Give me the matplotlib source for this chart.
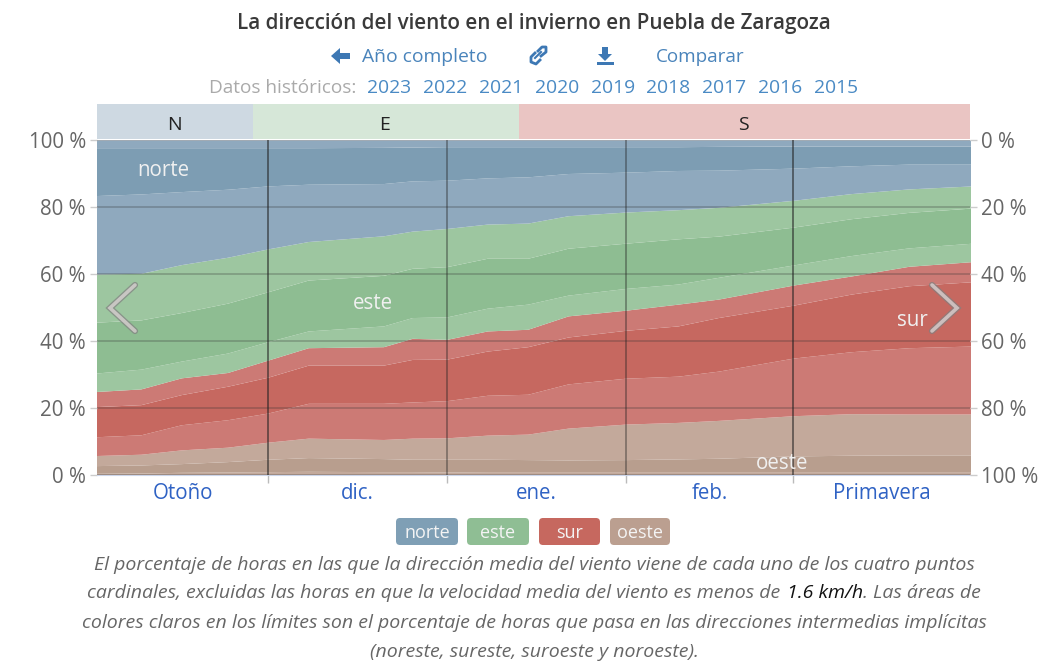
import numpy as np
import matplotlib
matplotlib.use('Agg')
import matplotlib.pyplot as plt
from matplotlib.patches import FancyBboxPatch, Rectangle, Polygon

plt.rcParams['font.family'] = ['Open Sans', 'DejaVu Sans']

# days counted from 1 Dec
days = [-30, -22, -15, -7, 0, 7, 20, 25, 31, 38, 45, 52, 62, 71, 78, 91, 101, 111, 122]

# cumulative % from the bottom of the stack
oeste_low = [0.5, 0.6, 0.8, 0.9, 1, 1.1, 1, 1, 0.9, 1, 1, 1, 1, 1, 1, 1, 1, 1, 1]
oeste_mid = [2.8, 3, 3.4, 4, 4.7, 5.2, 4.9, 4.7, 4.7, 4.7, 4.6, 4.5, 4.6, 4.8, 5, 5.7, 5.9, 6, 6]
oeste_top = [5.8, 6.2, 7.5, 8.3, 9.8, 11, 10.6, 11, 11.1, 11.9, 12.2, 14, 15.2, 15.7, 16.3, 17.7, 18.3, 18.2, 18.2]
sur_low = [11.4, 12, 15, 16.5, 18.5, 21.4, 21.4, 21.8, 22.2, 23.8, 24.1, 27.2, 28.9, 29.5, 31, 34.9, 36.8, 38, 38.5]
sur_mid = [20.4, 21, 24, 26.5, 29.2, 32.8, 32.8, 34.5, 34.6, 37, 38.3, 41.2, 43.2, 44.5, 47, 50.7, 54, 56.5, 57.7]
sur_top = [24.9, 25.7, 29, 30.6, 34.3, 38, 38.3, 40.8, 40.5, 43, 43.5, 47.5, 49.2, 51, 52.5, 56.7, 59.4, 62.3, 63.7]
este_low = [30.4, 31.6, 34, 36.4, 39.8, 43, 44.5, 47, 47.2, 49.8, 51, 53.7, 55.7, 57, 59, 62.7, 65.5, 67.8, 69.2]
este_mid = [45.6, 46.3, 48.5, 51.3, 54.7, 58.2, 59.6, 61.7, 62.2, 64.7, 64.7, 67.7, 69.2, 70.5, 71.3, 74, 76.5, 78.4, 79.7]
este_top = [60, 60.2, 62.8, 65, 67.5, 69.7, 71.4, 72.8, 73.6, 74.9, 75.2, 77.4, 78.5, 79.2, 79.9, 82, 84, 85.4, 86.3]
norte_low = [83.4, 83.9, 84.6, 85.3, 86.3, 86.8, 87, 87.8, 88, 88.7, 89, 90, 90.4, 90.9, 91, 91.6, 92.3, 92.8, 92.8]
norte_mid = [97.7, 97.7, 97.7, 97.7, 97.7, 97.7, 97.8, 97.9, 98, 98, 98, 98, 98, 98, 98.1, 98.2, 98.2, 98.2, 98.2]
norte_top = [100] * len(days)
bottom = [0] * len(days)

month_edges = [0, 31, 62, 91]
month_alpha = [0.65, 0.45, 0.45, 0.65]
month_mids = [-14.7, 15.5, 46.5, 76.5, 106.3]
month_names = ['Otoño', 'dic.', 'ene.', 'feb.', 'Primavera']
pct_ticks = [0, 20, 40, 60, 80, 100]

legend_names = ['norte', 'este', 'sur', 'oeste']
legend_colors = ['#7f9fb5', '#8fbe94', '#c6685f', '#bb9f90']
years = ['2023', '2022', '2021', '2020', '2019', '2018', '2017', '2016', '2015']

W, H = 1049, 664
fig = plt.figure(figsize=(W / 100, H / 100), dpi=100)

x0, x1, y0, y1 = 97, 970, 140, 475
ax = fig.add_axes([x0 / W, 1 - y1 / H, (x1 - x0) / W, (y1 - y0) / H])

layers = [
    (bottom, oeste_low, '#c3a99b'),
    (oeste_low, oeste_mid, '#b89e8e'),
    (oeste_mid, oeste_top, '#c3a99b'),
    (oeste_top, sur_low, '#cc7a75'),
    (sur_low, sur_mid, '#c66860'),
    (sur_mid, sur_top, '#cc7a75'),
    (sur_top, este_low, '#9dc6a0'),
    (este_low, este_mid, '#8ebd92'),
    (este_mid, este_top, '#9dc6a0'),
    (este_top, norte_low, '#8fa9be'),
    (norte_low, norte_mid, '#7d9db3'),
    (norte_mid, norte_top, '#8fa9be'),
]
for lo, hi, c in layers:
    ax.fill_between(days, lo, hi, color=c, lw=0, zorder=1)

ax.set_xlim(-29.6, 121.6)
ax.set_ylim(0, 100)
for s in ax.spines.values():
    s.set_visible(False)
ax.spines['bottom'].set_visible(True)
ax.spines['bottom'].set_color('#ccd6eb')

ax.set_yticks(pct_ticks)
ax.set_yticklabels([f'{p} %' for p in pct_ticks], fontsize=14.8, color='#666666')
ax.tick_params(axis='y', length=5, width=1, color='#cccccc', pad=3)
ax.set_xticks(month_edges)
ax.set_xticklabels([])
ax.tick_params(axis='x', which='major', length=6, width=1, color='#bbbbbb')
ax.set_xticks(month_mids, minor=True)
ax.set_xticklabels(month_names, minor=True, fontsize=14.8, color='#2f62c4')
ax.tick_params(axis='x', which='minor', length=0, pad=6)

for p in pct_ticks:
    ax.axhline(p, color='#333333', alpha=0.3, lw=1.2, zorder=3)
for d, a in zip(month_edges, month_alpha):
    ax.axvline(d, color='#222222', alpha=a, lw=1.2, zorder=3)

axr = ax.twinx()
axr.set_ylim(100, 0)
axr.set_yticks(pct_ticks)
axr.set_yticklabels([f'{p} %' for p in pct_ticks], fontsize=14.8, color='#666666')
axr.tick_params(axis='y', length=5, width=1, color='#cccccc', pad=3)
for s in axr.spines.values():
    s.set_visible(False)

# labels inside the areas
for name, d, p in [('norte', -18.1, 91), ('este', 18.2, 51.3), ('sur', 111.7, 46), ('oeste', 89, 3.4)]:
    ax.text(d, p, name, color='#f0f0f0', fontsize=14.8, ha='center', va='center', zorder=4)

# page furniture, in pixels
ov = fig.add_axes([0, 0, 1, 1], zorder=5)
ov.set_xlim(0, W)
ov.set_ylim(H, 0)
ov.axis('off')

for a, b, c, t in [(97, 253, '#ced9e2', 'N'), (253, 519, '#d6e7d8', 'E'), (519, 970, '#eac5c3', 'S')]:
    ov.add_patch(Rectangle((a, 104), b - a, 35, color=c, lw=0))
    ov.text((a + b) / 2 - 1, 125, t, fontsize=14, color='#222222', ha='center', va='center')

ov.text(534, 24, 'La dirección del viento en el invierno en Puebla de Zaragoza', fontsize=14.85,
        fontweight='semibold', color='#3a3a3a', ha='center', va='center')

link = '#3d78b4'
ov.text(362, 57, 'Año completo', fontsize=13.9, color='#4a84bb', va='center')
ov.text(656, 57, 'Comparar', fontsize=13.6, color='#4a84bb', va='center')
ov.add_patch(Polygon([(331, 56), (340, 48), (340, 53), (350, 53), (350, 59), (340, 59), (340, 64)], color=link, lw=0))
ov.plot([535, 541], [58, 52], color=link, lw=1.5)
ov.plot([535, 531, 531, 536, 540], [53, 57, 62, 64, 60], color=link, lw=2)
ov.plot([538, 542, 546, 546, 541], [51, 47, 47, 52, 56], color=link, lw=2)
ov.add_patch(Polygon([(602, 47), (608, 47), (608, 54), (612, 54), (605, 61), (598, 54), (602, 54)], color=link, lw=0))
ov.add_patch(Rectangle((597, 62), 17, 3, color=link, lw=0))

ov.text(209, 88, 'Datos históricos:', fontsize=13.7, color='#aaaaaa', va='center')
for i, y in enumerate(years):
    ov.text(389 + i * 55.9, 88, y, fontsize=13.9, color='#4a8ac4', ha='center', va='center')

# carousel arrows
for pts in ([(135, 285), (110, 308), (135, 331)], [(932, 285), (957, 308), (932, 331)]):
    xs, ys = zip(*pts)
    ov.plot(xs, ys, color='#808080', alpha=0.7, lw=4.5, solid_capstyle='round', solid_joinstyle='miter')
    ov.plot(xs, ys, color='#e4dcdc', alpha=0.7, lw=2.6, solid_capstyle='round', solid_joinstyle='miter')

# legend buttons
for name, c, a, b in zip(legend_names, legend_colors, [396, 467, 539, 610], [458, 529, 600, 670]):
    ov.add_patch(FancyBboxPatch((a + 4, 522), b - a - 8, 19, boxstyle='round,pad=4', lw=0, color=c))
    ov.text((a + b) / 2, 533, name, fontsize=13, color='#f4f4f4', ha='center', va='center')

# caption
cap_style = dict(fontsize=14.0, style='italic', va='center')
gray = '#666666'
ov.text(534, 565, 'El porcentaje de horas en las que la dirección media del viento viene de cada uno de los cuatro puntos',
        color=gray, ha='center', **cap_style)
ov.text(534, 623, 'colores claros en los límites son el porcentaje de horas que pasa en las direcciones intermedias implícitas',
        color=gray, ha='center', **cap_style)
ov.text(534, 652, '(noreste, sureste, suroeste y noroeste).', color=gray, ha='center', **cap_style)

parts = [('cardinales, excluidas las horas en que la velocidad media del viento es menos de', gray),
         ('1.6 km/h', '#111111'),
         ('. Las áreas de', gray)]
rend = fig.canvas.get_renderer()
pieces = [ov.text(0, 593, t, color=c, **cap_style) for t, c in parts]
widths = [p.get_window_extent(rend).width for p in pieces]
widths[0] += 6
xp = 534 - sum(widths) / 2
for p, w in zip(pieces, widths):
    p.set_x(xp)
    xp += w

fig.savefig('out.png', dpi=100)
